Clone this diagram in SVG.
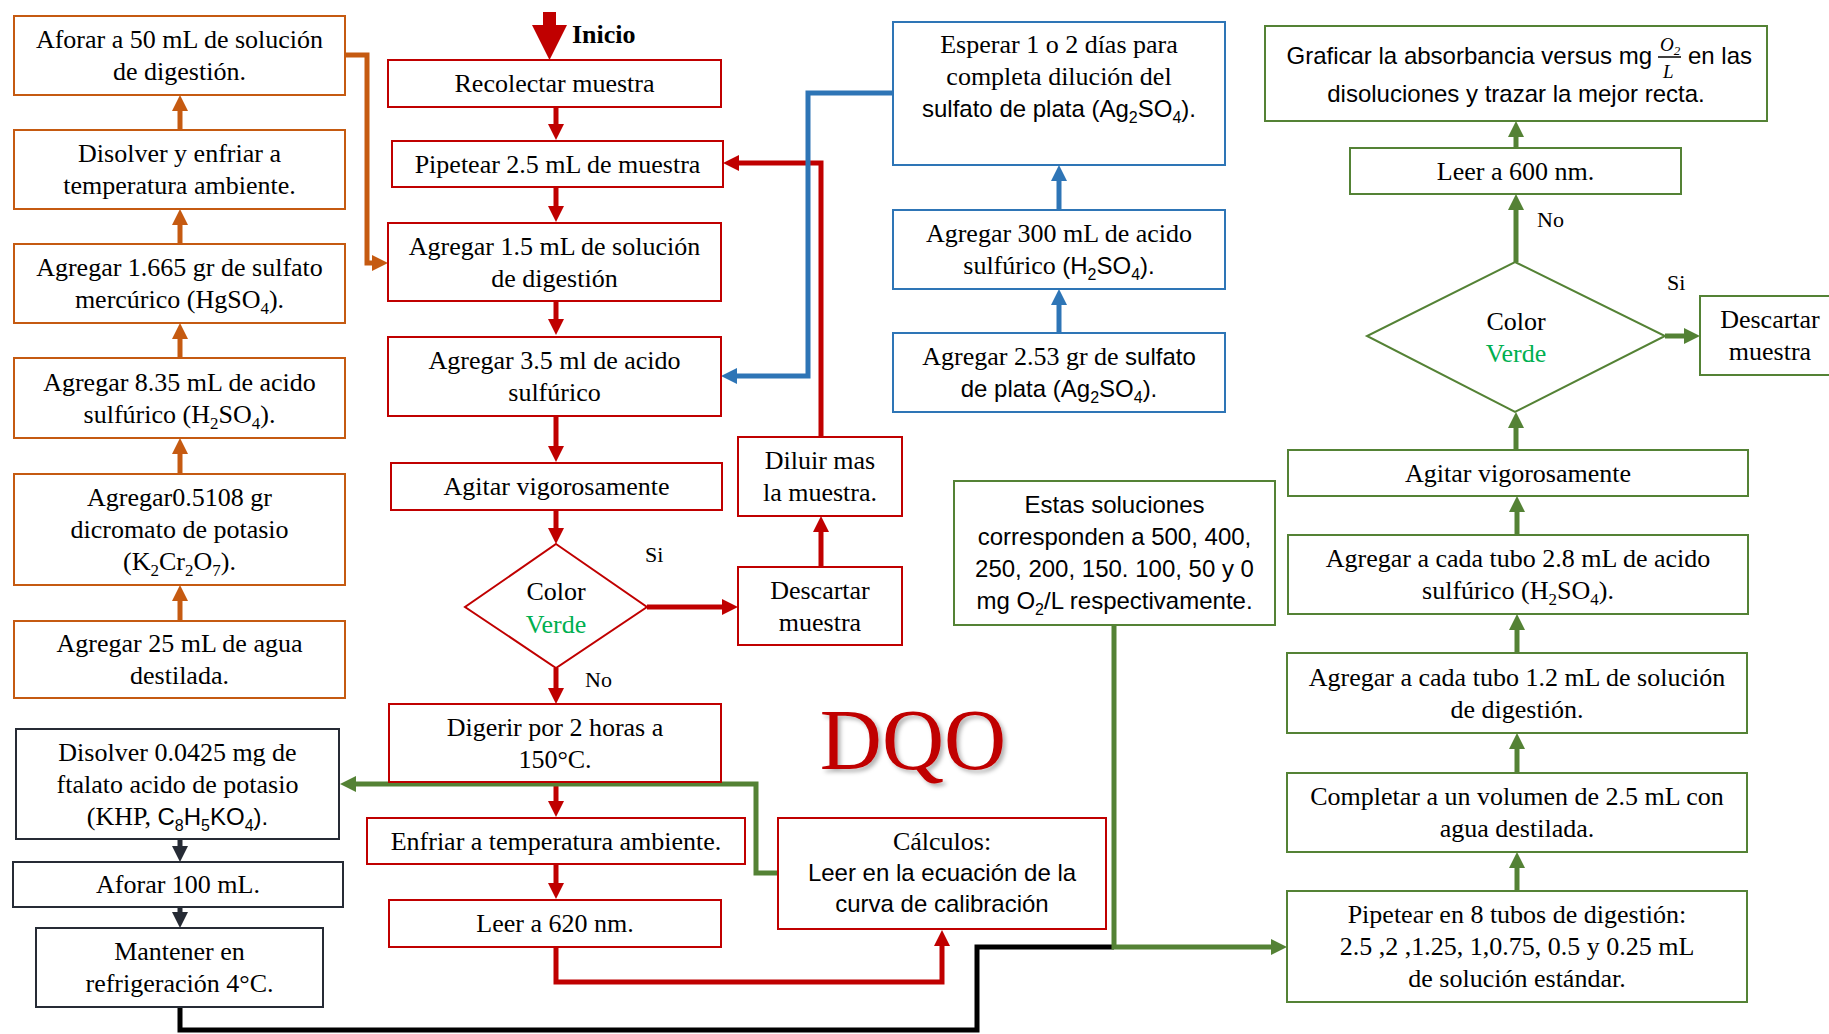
<svg xmlns="http://www.w3.org/2000/svg" width="1829" height="1034" viewBox="0 0 1829 1034">
<style>
  .box{fill:#fff;stroke-width:2}
  .o{stroke:#C55A11}
  .r{stroke:#C00000}
  .b{stroke:#2E75B6}
  .g{stroke:#548235}
  .k{stroke:#262B35}
  .t{font-family:"Liberation Serif","Times New Roman",serif;font-size:26px;fill:#000;text-anchor:middle}
  .s{font-family:"Liberation Sans",Arial,sans-serif;font-size:24px;fill:#000;text-anchor:middle}
  .ss{font-family:"Liberation Sans",Arial,sans-serif;font-size:24px}
  .lbl{font-family:"Liberation Serif","Times New Roman",serif;font-size:22px;fill:#000}
  .verde{fill:#00B050}
  .ln{fill:none;stroke-width:5;stroke-linejoin:miter}
</style>
<defs>
  <marker id="aO" markerUnits="userSpaceOnUse" markerWidth="16" markerHeight="16" refX="8" refY="8" orient="auto"><path d="M0,0 L16,8 L0,16 z" fill="#C55A11"/></marker>
  <marker id="aR" markerUnits="userSpaceOnUse" markerWidth="16" markerHeight="16" refX="8" refY="8" orient="auto"><path d="M0,0 L16,8 L0,16 z" fill="#C00000"/></marker>
  <marker id="aB" markerUnits="userSpaceOnUse" markerWidth="16" markerHeight="16" refX="8" refY="8" orient="auto"><path d="M0,0 L16,8 L0,16 z" fill="#2E75B6"/></marker>
  <marker id="aG" markerUnits="userSpaceOnUse" markerWidth="16" markerHeight="16" refX="8" refY="8" orient="auto"><path d="M0,0 L16,8 L0,16 z" fill="#548235"/></marker>
  <marker id="aK" markerUnits="userSpaceOnUse" markerWidth="16" markerHeight="16" refX="8" refY="8" orient="auto"><path d="M0,0 L16,8 L0,16 z" fill="#262B35"/></marker>
  <filter id="shadow" x="-10%" y="-10%" width="130%" height="130%">
    <feDropShadow dx="3" dy="3" stdDeviation="2" flood-color="#000" flood-opacity="0.3"/>
  </filter>
</defs>

<!-- connectors -->
<g id="connectors">
  <!-- reagent preparation (orange) -->
  <path class="ln" stroke="#C55A11" marker-end="url(#aO)" d="M180,130 V103"/>
  <path class="ln" stroke="#C55A11" marker-end="url(#aO)" d="M180,244 V217"/>
  <path class="ln" stroke="#C55A11" marker-end="url(#aO)" d="M180,358 V331"/>
  <path class="ln" stroke="#C55A11" marker-end="url(#aO)" d="M180,474 V446"/>
  <path class="ln" stroke="#C55A11" marker-end="url(#aO)" d="M180,621 V593"/>
  <path class="ln" stroke="#C55A11" marker-end="url(#aO)" d="M345,55 H367 V263 H380"/>
  <!-- KHP standard (dark) -->
  <path class="ln" stroke="#262B35" marker-end="url(#aK)" d="M180,839 V854"/>
  <path class="ln" stroke="#262B35" marker-end="url(#aK)" d="M180,907 V920"/>
  <path class="ln" stroke="#000" d="M180,1007 V1030 H977 V947 H1114"/>
  <!-- sample path (red) -->
  <polygon points="543,12 556,12 556,25 567,25 549.5,60 532,25 543,25" fill="#C00000"/>
  <path class="ln" stroke="#C00000" marker-end="url(#aR)" d="M556,107 V132"/>
  <path class="ln" stroke="#C00000" marker-end="url(#aR)" d="M556,187 V214"/>
  <path class="ln" stroke="#C00000" marker-end="url(#aR)" d="M556,301 V327"/>
  <path class="ln" stroke="#C00000" marker-end="url(#aR)" d="M556,416 V454"/>
  <path class="ln" stroke="#C00000" marker-end="url(#aR)" d="M556,510 V536"/>
  <path class="ln" stroke="#C00000" marker-end="url(#aR)" d="M556,668 V696"/>
  <path class="ln" stroke="#C00000" marker-end="url(#aR)" d="M647,607 H730"/>
  <path class="ln" stroke="#C00000" marker-end="url(#aR)" d="M821,567 V524"/>
  <path class="ln" stroke="#C00000" marker-end="url(#aR)" d="M821,437 V163 H731"/>
  <path class="ln" stroke="#C00000" marker-end="url(#aR)" d="M556,782 V809"/>
  <path class="ln" stroke="#C00000" marker-end="url(#aR)" d="M556,864 V891"/>
  <path class="ln" stroke="#C00000" marker-end="url(#aR)" d="M556,947 V982 H942 V938"/>
  <!-- sulfuric acid reagent (blue) -->
  <path class="ln" stroke="#2E75B6" marker-end="url(#aB)" d="M893,93 H808 V376 H729"/>
  <path class="ln" stroke="#2E75B6" marker-end="url(#aB)" d="M1059,210 V173"/>
  <path class="ln" stroke="#2E75B6" marker-end="url(#aB)" d="M1059,333 V297"/>
  <!-- calibration curve (green) -->
  <path class="ln" stroke="#548235" marker-end="url(#aG)" d="M1516,148 V129"/>
  <path class="ln" stroke="#548235" marker-end="url(#aG)" d="M1516,262 V202"/>
  <path class="ln" stroke="#548235" marker-end="url(#aG)" d="M1516,450 V420"/>
  <path class="ln" stroke="#548235" marker-end="url(#aG)" d="M1517,535 V504"/>
  <path class="ln" stroke="#548235" marker-end="url(#aG)" d="M1517,653 V622"/>
  <path class="ln" stroke="#548235" marker-end="url(#aG)" d="M1517,773 V741"/>
  <path class="ln" stroke="#548235" marker-end="url(#aG)" d="M1517,891 V860"/>
  <path class="ln" stroke="#548235" marker-end="url(#aG)" d="M1665,336 H1692"/>
  <path class="ln" stroke="#548235" marker-end="url(#aG)" d="M1114,625 V947 H1279"/>
  <path class="ln" stroke="#548235" marker-end="url(#aG)" d="M778,873 H756 V784 H348"/>
</g>

<!-- digestion solution -->
<g id="aforar50">
  <rect class="box o" x="14" y="16" width="331" height="79"/>
  <text class="t" x="179.5" y="48">Aforar  a 50 mL de solución</text>
  <text class="t" x="179.5" y="80">de digestión.</text>
</g>
<g id="disolver-enfriar">
  <rect class="box o" x="14" y="130" width="331" height="79"/>
  <text class="t" x="179.5" y="162">Disolver y enfriar a</text>
  <text class="t" x="179.5" y="194">temperatura ambiente.</text>
</g>
<g id="hgso4">
  <rect class="box o" x="14" y="244" width="331" height="79"/>
  <text class="t" x="179.5" y="276">Agregar 1.665 gr de sulfato</text>
  <text class="t" x="179.5" y="308">mercúrico (HgSO<tspan dy="6" font-size="17">4</tspan><tspan dy="-6">).</tspan></text>
</g>
<g id="h2so4-835">
  <rect class="box o" x="14" y="358" width="331" height="80"/>
  <text class="t" x="179.5" y="390.5">Agregar 8.35 mL de acido</text>
  <text class="t" x="179.5" y="422.5">sulfúrico (H<tspan dy="6" font-size="17">2</tspan><tspan dy="-6">SO</tspan><tspan dy="6" font-size="17">4</tspan><tspan dy="-6">).</tspan></text>
</g>
<g id="dicromato">
  <rect class="box o" x="14" y="474" width="331" height="111"/>
  <text class="t" x="179.5" y="506">Agregar0.5108 gr</text>
  <text class="t" x="179.5" y="538">dicromato de potasio</text>
  <text class="t" x="179.5" y="570">(K<tspan dy="6" font-size="17">2</tspan><tspan dy="-6">Cr</tspan><tspan dy="6" font-size="17">2</tspan><tspan dy="-6">O</tspan><tspan dy="6" font-size="17">7</tspan><tspan dy="-6">).</tspan></text>
</g>
<g id="agua25">
  <rect class="box o" x="14" y="621" width="331" height="77"/>
  <text class="t" x="179.5" y="652">Agregar 25 mL de agua</text>
  <text class="t" x="179.5" y="684">destilada.</text>
</g>

<!-- KHP standard -->
<g id="khp">
  <rect class="box k" x="16" y="729" width="323" height="110"/>
  <text class="t" x="177.5" y="760.5">Disolver 0.0425 mg de</text>
  <text class="t" x="177.5" y="792.5">ftalato acido de potasio</text>
  <text class="t" x="177.5" y="824.5">(KHP, <tspan class="ss" font-size="23">C<tspan dy="6" font-size="16">8</tspan><tspan dy="-6">H</tspan><tspan dy="6" font-size="16">5</tspan><tspan dy="-6">KO</tspan><tspan dy="6" font-size="16">4</tspan><tspan dy="-6">).</tspan></tspan></text>
</g>
<g id="aforar100">
  <rect class="box k" x="13" y="862" width="330" height="45"/>
  <text class="t" x="178" y="893">Aforar 100 mL.</text>
</g>
<g id="mantener">
  <rect class="box k" x="36" y="928" width="287" height="79"/>
  <text class="t" x="179.5" y="960">Mantener en</text>
  <text class="t" x="179.5" y="992">refrigeración 4°C.</text>
</g>

<!-- sample procedure -->
<text id="inicio" x="572" y="43" font-family="Liberation Serif,Times New Roman,serif" font-size="26" font-weight="bold">Inicio</text>
<g id="recolectar">
  <rect class="box r" x="388" y="60" width="333" height="47"/>
  <text class="t" x="554.5" y="92">Recolectar muestra</text>
</g>
<g id="pipetear">
  <rect class="box r" x="392" y="141" width="331" height="46"/>
  <text class="t" x="557.5" y="172.5">Pipetear 2.5  mL de muestra</text>
</g>
<g id="agregar15">
  <rect class="box r" x="388" y="223" width="333" height="78"/>
  <text class="t" x="554.5" y="254.5">Agregar 1.5 mL de solución</text>
  <text class="t" x="554.5" y="286.5">de digestión</text>
</g>
<g id="agregar35">
  <rect class="box r" x="388" y="337" width="333" height="79"/>
  <text class="t" x="554.5" y="369">Agregar 3.5 ml de acido</text>
  <text class="t" x="554.5" y="401">sulfúrico</text>
</g>
<g id="agitar1">
  <rect class="box r" x="391" y="463" width="331" height="47"/>
  <text class="t" x="556.5" y="495">Agitar vigorosamente</text>
</g>
<g id="color1">
  <polygon class="box r" points="556,544 647,607 556,668 465,607"/>
  <text class="t" x="556" y="600">Color</text>
  <text class="t verde" x="556" y="633">Verde</text>
</g>
<text class="lbl" x="645" y="562">Si</text>
<text class="lbl" x="585" y="687">No</text>
<g id="descartar1">
  <rect class="box r" x="738" y="567" width="164" height="78"/>
  <text class="t" x="820" y="598.5">Descartar</text>
  <text class="t" x="820" y="630.5">muestra</text>
</g>
<g id="diluir">
  <rect class="box r" x="738" y="437" width="164" height="79"/>
  <text class="t" x="820" y="469">Diluir mas</text>
  <text class="t" x="820" y="501">la muestra.</text>
</g>
<g id="digerir">
  <rect class="box r" x="389" y="704" width="332" height="78"/>
  <text class="t" x="555" y="735.5">Digerir por 2 horas a</text>
  <text class="t" x="555" y="767.5">150°C.</text>
</g>
<g id="enfriar">
  <rect class="box r" x="367" y="818" width="378" height="46"/>
  <text class="t" x="556" y="849.5">Enfriar a temperatura ambiente.</text>
</g>
<g id="leer620">
  <rect class="box r" x="389" y="900" width="332" height="47"/>
  <text class="t" x="555" y="932">Leer a 620 nm.</text>
</g>
<g id="calculos">
  <rect class="box r" x="778" y="818" width="328" height="111"/>
  <text class="t" x="942" y="850">Cálculos:</text>
  <text class="s" x="942" y="881">Leer en la ecuación de la</text>
  <text class="s" x="942" y="912">curva de calibración</text>
</g>
<text id="dqo" x="913" y="769" font-family="Liberation Serif,Times New Roman,serif" font-size="86" fill="#C00000" text-anchor="middle" filter="url(#shadow)">DQO</text>

<!-- silver sulfate reagent -->
<g id="esperar">
  <rect class="box b" x="893" y="22" width="332" height="143"/>
  <text class="t" x="1059" y="53">Esperar 1 o 2 días para</text>
  <text class="t" x="1059" y="85">completa dilución del</text>
  <text class="s" x="1059" y="117">sulfato de plata (Ag<tspan dy="6" font-size="16">2</tspan><tspan dy="-6">SO</tspan><tspan dy="6" font-size="16">4</tspan><tspan dy="-6">).</tspan></text>
</g>
<g id="h2so4-300">
  <rect class="box b" x="893" y="210" width="332" height="79"/>
  <text class="t" x="1059" y="242">Agregar 300 mL de acido</text>
  <text class="t" x="1059" y="274">sulfúrico <tspan class="ss">(H<tspan dy="6" font-size="16">2</tspan><tspan dy="-6">SO</tspan><tspan dy="6" font-size="16">4</tspan><tspan dy="-6">).</tspan></tspan></text>
</g>
<g id="ag2so4">
  <rect class="box b" x="893" y="333" width="332" height="79"/>
  <text class="t" x="1059" y="365">Agregar 2.53 gr de <tspan class="ss">sulfato</tspan></text>
  <text class="s" x="1059" y="397">de plata (Ag<tspan dy="6" font-size="16">2</tspan><tspan dy="-6">SO</tspan><tspan dy="6" font-size="16">4</tspan><tspan dy="-6">).</tspan></text>
</g>

<!-- calibration curve -->
<g id="estas">
  <rect class="box g" x="954" y="481" width="321" height="144"/>
  <text class="s" x="1114.5" y="513">Estas soluciones</text>
  <text class="s" x="1114.5" y="545">corresponden a 500, 400,</text>
  <text class="s" x="1114.5" y="577">250, 200, 150. 100, 50 y 0</text>
  <text class="s" x="1114.5" y="609">mg O<tspan dy="6" font-size="16">2</tspan><tspan dy="-6">/L respectivamente.</tspan></text>
</g>
<g id="graficar">
  <rect class="box g" x="1265" y="26" width="502" height="95"/>
  <text class="ss" x="1652" y="64" text-anchor="end">Graficar la absorbancia versus  mg</text>
  <text x="1660" y="51" font-family="Liberation Serif,Times New Roman,serif" font-size="19" font-style="italic">O<tspan dy="4" font-size="13">2</tspan></text>
  <line x1="1658" y1="57" x2="1681" y2="57" stroke="#000" stroke-width="1.5"/>
  <text x="1663" y="78" font-family="Liberation Serif,Times New Roman,serif" font-size="19" font-style="italic">L</text>
  <text class="ss" x="1688" y="64">en las</text>
  <text class="s" x="1516" y="102">disoluciones y trazar la mejor recta.</text>
</g>
<g id="leer600">
  <rect class="box g" x="1350" y="148" width="331" height="46"/>
  <text class="t" x="1515.5" y="179.5">Leer a 600 nm.</text>
</g>
<text class="lbl" x="1537" y="227">No</text>
<g id="color2">
  <polygon class="box g" points="1515,262 1665,336 1515,412 1367,336"/>
  <text class="t" x="1516" y="330">Color</text>
  <text class="t verde" x="1516" y="362">Verde</text>
</g>
<text class="lbl" x="1667" y="290">Si</text>
<g id="descartar2">
  <rect class="box g" x="1700" y="296" width="140" height="79"/>
  <text class="t" x="1770" y="328">Descartar</text>
  <text class="t" x="1770" y="360">muestra</text>
</g>
<g id="agitar2">
  <rect class="box g" x="1288" y="450" width="460" height="46"/>
  <text class="t" x="1518" y="481.5">Agitar vigorosamente</text>
</g>
<g id="h2so4-28">
  <rect class="box g" x="1288" y="535" width="460" height="79"/>
  <text class="t" x="1518" y="567">Agregar a cada tubo 2.8 mL de acido</text>
  <text class="t" x="1518" y="599">sulfúrico (H<tspan dy="6" font-size="17">2</tspan><tspan dy="-6">SO</tspan><tspan dy="6" font-size="17">4</tspan><tspan dy="-6">).</tspan></text>
</g>
<g id="digestion12">
  <rect class="box g" x="1287" y="653" width="460" height="80"/>
  <text class="t" x="1517" y="685.5">Agregar a cada tubo 1.2 mL de solución</text>
  <text class="t" x="1517" y="717.5">de digestión.</text>
</g>
<g id="completar">
  <rect class="box g" x="1287" y="773" width="460" height="79"/>
  <text class="t" x="1517" y="805">Completar a un volumen de 2.5 mL con</text>
  <text class="t" x="1517" y="837">agua destilada.</text>
</g>
<g id="pipetear8">
  <rect class="box g" x="1287" y="891" width="460" height="111"/>
  <text class="t" x="1517" y="923">Pipetear en 8 tubos de digestión:</text>
  <text class="t" x="1517" y="955">2.5 ,2 ,1.25, 1,0.75, 0.5 y 0.25 mL</text>
  <text class="t" x="1517" y="987">de solución estándar.</text>
</g>
</svg>
